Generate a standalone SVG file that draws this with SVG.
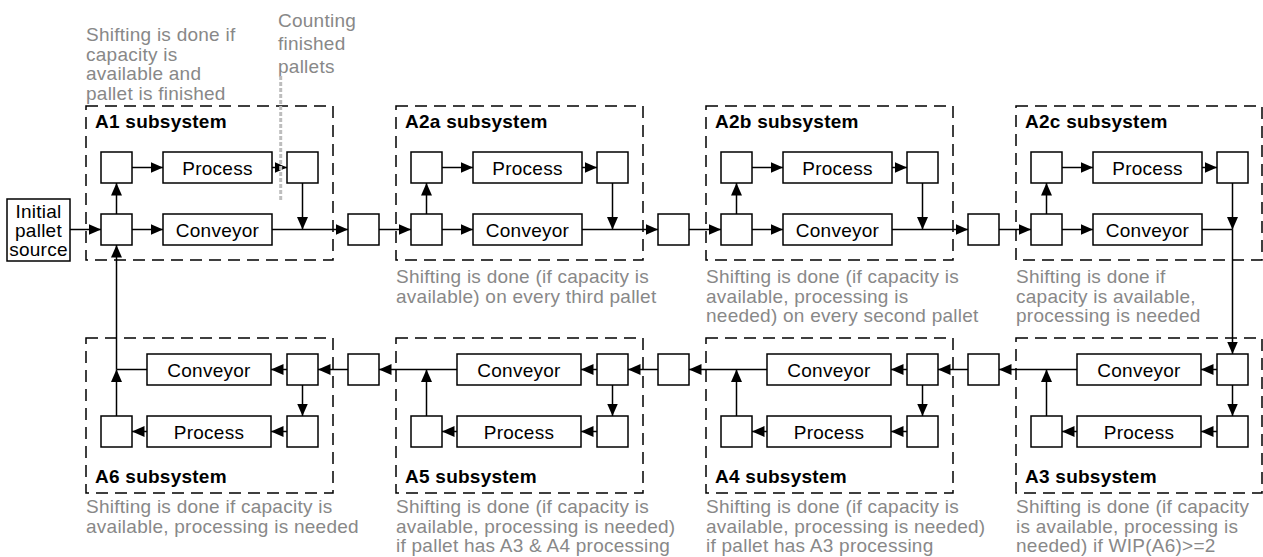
<svg xmlns="http://www.w3.org/2000/svg" width="1263" height="557" viewBox="0 0 1263 557">
<style>
text{font-family:"Liberation Sans",Arial,sans-serif;font-size:19px;letter-spacing:0.25px}
.lbl{fill:#000;text-anchor:middle}
.note{fill:#888}
.title{font-weight:bold;fill:#000}
.sub{fill:none;stroke:#000;stroke-width:1.5;stroke-dasharray:12 7}
.bx{fill:#fff;stroke:#000;stroke-width:1.5}
.ln{fill:none;stroke:#000;stroke-width:1.5}
.ar{fill:none;stroke:#000;stroke-width:1.5;marker-end:url(#ah)}
</style>
<defs>
<marker id="ah" markerUnits="userSpaceOnUse" markerWidth="13" markerHeight="12" refX="12.5" refY="5.5" orient="auto"><path d="M0,0 L12.5,5.5 L0,11 z" fill="#000"/></marker>
</defs>
<rect width="1263" height="557" fill="#fff"/>

<g id="notes">
<text class="note"><tspan x="86" y="41">Shifting is done if</tspan><tspan x="86" y="60.5">capacity is</tspan><tspan x="86" y="80">available and</tspan><tspan x="86" y="99.5">pallet is finished</tspan></text>
<text class="note"><tspan x="278" y="27">Counting</tspan><tspan x="278" y="50">finished</tspan><tspan x="278" y="73">pallets</tspan></text>
<text class="note"><tspan x="396" y="283">Shifting is done (if capacity is</tspan><tspan x="396" y="302.5">available) on every third pallet</tspan></text>
<text class="note"><tspan x="706" y="283">Shifting is done (if capacity is</tspan><tspan x="706" y="302.5">available, processing is</tspan><tspan x="706" y="322">needed) on every second pallet</tspan></text>
<text class="note"><tspan x="1016" y="283">Shifting is done if</tspan><tspan x="1016" y="302.5">capacity is available,</tspan><tspan x="1016" y="322">processing is needed</tspan></text>
<text class="note"><tspan x="86" y="513">Shifting is done if capacity is</tspan><tspan x="86" y="532.5">available, processing is needed</tspan></text>
<text class="note"><tspan x="396" y="513">Shifting is done (if capacity is</tspan><tspan x="396" y="532.5">available, processing is needed)</tspan><tspan x="396" y="552">if pallet has A3 &amp; A4 processing</tspan></text>
<text class="note"><tspan x="706" y="513">Shifting is done (if capacity is</tspan><tspan x="706" y="532.5">available, processing is needed)</tspan><tspan x="706" y="552">if pallet has A3 processing</tspan></text>
<text class="note"><tspan x="1016" y="513">Shifting is done (if capacity</tspan><tspan x="1016" y="532.5">is available, processing is</tspan><tspan x="1016" y="552">needed) if WIP(A6)&gt;=2</tspan></text>
</g>

<g id="A1">
<rect class="sub" x="86" y="106" width="247" height="154"/>
<text class="title" x="95" y="128">A1 subsystem</text>
<rect class="bx" x="101" y="152" width="31" height="31"/>
<rect class="bx" x="163" y="152" width="109" height="31"/><text class="lbl" x="217.5" y="174.5">Process</text>
<rect class="bx" x="287" y="152" width="31" height="31"/>
<rect class="bx" x="101" y="214" width="31" height="31"/>
<rect class="bx" x="163" y="214" width="109" height="31"/><text class="lbl" x="217.5" y="236.5">Conveyor</text>
</g>
<g id="A2a">
<rect class="sub" x="396" y="106" width="247" height="154"/>
<text class="title" x="405" y="128">A2a subsystem</text>
<rect class="bx" x="411" y="152" width="31" height="31"/>
<rect class="bx" x="473" y="152" width="109" height="31"/><text class="lbl" x="527.5" y="174.5">Process</text>
<rect class="bx" x="597" y="152" width="31" height="31"/>
<rect class="bx" x="411" y="214" width="31" height="31"/>
<rect class="bx" x="473" y="214" width="109" height="31"/><text class="lbl" x="527.5" y="236.5">Conveyor</text>
</g>
<g id="A2b">
<rect class="sub" x="706" y="106" width="247" height="154"/>
<text class="title" x="715" y="128">A2b subsystem</text>
<rect class="bx" x="721" y="152" width="31" height="31"/>
<rect class="bx" x="783" y="152" width="109" height="31"/><text class="lbl" x="837.5" y="174.5">Process</text>
<rect class="bx" x="907" y="152" width="31" height="31"/>
<rect class="bx" x="721" y="214" width="31" height="31"/>
<rect class="bx" x="783" y="214" width="109" height="31"/><text class="lbl" x="837.5" y="236.5">Conveyor</text>
</g>
<g id="A2c">
<rect class="sub" x="1016" y="106" width="246" height="154"/>
<text class="title" x="1025" y="128">A2c subsystem</text>
<rect class="bx" x="1031" y="152" width="31" height="31"/>
<rect class="bx" x="1093" y="152" width="109" height="31"/><text class="lbl" x="1147.5" y="174.5">Process</text>
<rect class="bx" x="1217" y="152" width="31" height="31"/>
<rect class="bx" x="1031" y="214" width="31" height="31"/>
<rect class="bx" x="1093" y="214" width="109" height="31"/><text class="lbl" x="1147.5" y="236.5">Conveyor</text>
</g>

<g id="A6">
<rect class="sub" x="86" y="338" width="247" height="155"/>
<text class="title" x="95" y="483">A6 subsystem</text>
<rect class="bx" x="147" y="354" width="124" height="31"/><text class="lbl" x="209" y="376.5">Conveyor</text>
<rect class="bx" x="287" y="354" width="31" height="31"/>
<rect class="bx" x="101" y="416" width="31" height="31"/>
<rect class="bx" x="147" y="416" width="124" height="31"/><text class="lbl" x="209" y="438.5">Process</text>
<rect class="bx" x="287" y="416" width="31" height="31"/>
</g>
<g id="A5">
<rect class="sub" x="396" y="338" width="247" height="155"/>
<text class="title" x="405" y="483">A5 subsystem</text>
<rect class="bx" x="457" y="354" width="124" height="31"/><text class="lbl" x="519" y="376.5">Conveyor</text>
<rect class="bx" x="597" y="354" width="31" height="31"/>
<rect class="bx" x="411" y="416" width="31" height="31"/>
<rect class="bx" x="457" y="416" width="124" height="31"/><text class="lbl" x="519" y="438.5">Process</text>
<rect class="bx" x="597" y="416" width="31" height="31"/>
</g>
<g id="A4">
<rect class="sub" x="706" y="338" width="247" height="155"/>
<text class="title" x="715" y="483">A4 subsystem</text>
<rect class="bx" x="767" y="354" width="124" height="31"/><text class="lbl" x="829" y="376.5">Conveyor</text>
<rect class="bx" x="907" y="354" width="31" height="31"/>
<rect class="bx" x="721" y="416" width="31" height="31"/>
<rect class="bx" x="767" y="416" width="124" height="31"/><text class="lbl" x="829" y="438.5">Process</text>
<rect class="bx" x="907" y="416" width="31" height="31"/>
</g>
<g id="A3">
<rect class="sub" x="1016" y="338" width="246" height="155"/>
<text class="title" x="1025" y="483">A3 subsystem</text>
<rect class="bx" x="1077" y="354" width="124" height="31"/><text class="lbl" x="1139" y="376.5">Conveyor</text>
<rect class="bx" x="1217" y="354" width="31" height="31"/>
<rect class="bx" x="1031" y="416" width="31" height="31"/>
<rect class="bx" x="1077" y="416" width="124" height="31"/><text class="lbl" x="1139" y="438.5">Process</text>
<rect class="bx" x="1217" y="416" width="31" height="31"/>
</g>

<g id="source">
<rect class="bx" x="7" y="199" width="63" height="62"/>
<text class="lbl"><tspan x="38.5" y="218">Initial</tspan><tspan x="38.5" y="237">pallet</tspan><tspan x="38.5" y="256">source</tspan></text>
</g>
<g id="buffers">
<rect class="bx" x="348" y="214" width="31" height="31"/>
<rect class="bx" x="658" y="214" width="31" height="31"/>
<rect class="bx" x="968" y="214" width="31" height="31"/>
<rect class="bx" x="348" y="354" width="31" height="31"/>
<rect class="bx" x="658" y="354" width="31" height="31"/>
<rect class="bx" x="968" y="354" width="31" height="31"/>
</g>

<g id="connectors">
<path class="ar" d="M70,229.5 H101"/>
<!-- A1 -->
<path class="ar" d="M132,167.5 H163"/><path class="ar" d="M272,167.5 H287"/>
<path class="ar" d="M116.5,214 V183"/><path class="ar" d="M132,229.5 H163"/>
<path class="ar" d="M302.5,183 V229.5"/><path class="ar" d="M272,229.5 H348"/>
<path class="ar" d="M379,229.5 H411"/>
<!-- A2a -->
<path class="ar" d="M442,167.5 H473"/><path class="ar" d="M582,167.5 H597"/>
<path class="ar" d="M426.5,214 V183"/><path class="ar" d="M442,229.5 H473"/>
<path class="ar" d="M612.5,183 V229.5"/><path class="ar" d="M582,229.5 H658"/>
<path class="ar" d="M689,229.5 H721"/>
<!-- A2b -->
<path class="ar" d="M752,167.5 H783"/><path class="ar" d="M892,167.5 H907"/>
<path class="ar" d="M736.5,214 V183"/><path class="ar" d="M752,229.5 H783"/>
<path class="ar" d="M922.5,183 V229.5"/><path class="ar" d="M892,229.5 H968"/>
<path class="ar" d="M999,229.5 H1031"/>
<!-- A2c -->
<path class="ar" d="M1062,167.5 H1093"/><path class="ar" d="M1202,167.5 H1217"/>
<path class="ar" d="M1046.5,214 V183"/><path class="ar" d="M1062,229.5 H1093"/>
<path class="ln" d="M1202,229.5 H1232.5"/>
<path class="ar" d="M1232.5,183 V229.5"/><path class="ar" d="M1232.5,229.5 V354"/>
<!-- A3 -->
<path class="ar" d="M1217,369.5 H1201"/><path class="ar" d="M1232.5,385 V416"/>
<path class="ar" d="M1217,431.5 H1201"/><path class="ar" d="M1077,431.5 H1062"/>
<path class="ar" d="M1046.5,416 V369.5"/><path class="ar" d="M1077,369.5 H999"/>
<path class="ar" d="M968,369.5 H938"/>
<!-- A4 -->
<path class="ar" d="M907,369.5 H891"/><path class="ar" d="M922.5,385 V416"/>
<path class="ar" d="M907,431.5 H891"/><path class="ar" d="M767,431.5 H752"/>
<path class="ar" d="M736.5,416 V369.5"/><path class="ar" d="M767,369.5 H689"/>
<path class="ar" d="M658,369.5 H628"/>
<!-- A5 -->
<path class="ar" d="M597,369.5 H581"/><path class="ar" d="M612.5,385 V416"/>
<path class="ar" d="M597,431.5 H581"/><path class="ar" d="M457,431.5 H442"/>
<path class="ar" d="M426.5,416 V369.5"/><path class="ar" d="M457,369.5 H379"/>
<path class="ar" d="M348,369.5 H318"/>
<!-- A6 -->
<path class="ar" d="M287,369.5 H271"/><path class="ar" d="M302.5,385 V416"/>
<path class="ar" d="M287,431.5 H271"/><path class="ar" d="M147,431.5 H132"/>
<path class="ar" d="M116.5,416 V369.5"/>
<path class="ln" d="M147,369.5 H116.5"/>
<path class="ar" d="M116.5,369.5 V245"/>
</g>
<g id="counting-marker">
<path d="M280.7,76 V200" fill="none" stroke="#bdbdbd" stroke-width="3" stroke-dasharray="4 2"/>
</g>
</svg>
